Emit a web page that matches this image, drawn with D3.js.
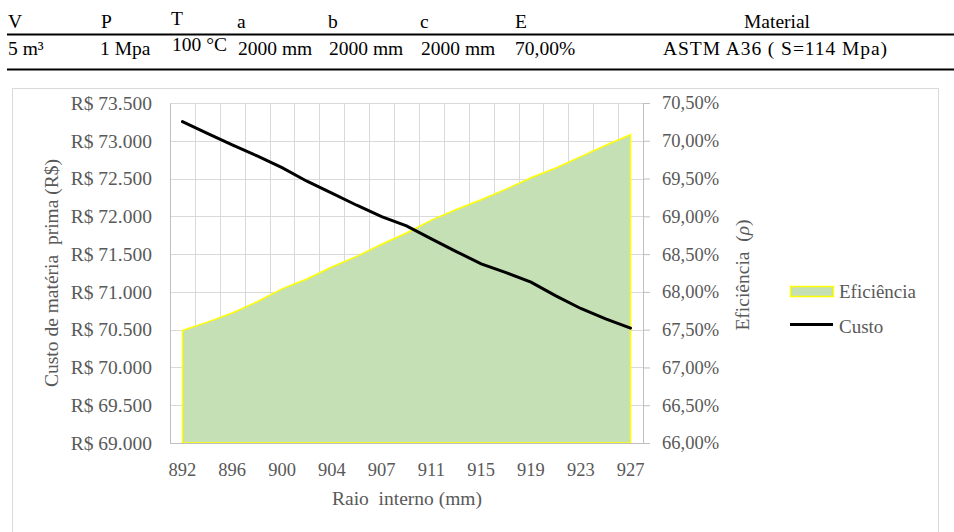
<!DOCTYPE html>
<html>
<head>
<meta charset="utf-8">
<script src="https://cdn.jsdelivr.net/npm/d3@7"></script>
<style>
    body { margin: 0; background: #fff; }
    text { font-family: "Liberation Serif", "Times New Roman", serif; }
</style>
</head>
<body>
<div id="chart"></div>
<script>
// dados
const raio = [892, 894, 896, 898, 900, 902, 904, 906, 907, 909, 911, 913, 915, 917, 919, 921, 923, 925, 927];
const custo = [73253, 73099, 72945, 72799, 72645, 72465, 72306, 72147, 71997, 71874,
    71702, 71534, 71371, 71256, 71129, 70948, 70780, 70644, 70521];
const eficiencia = [67.49, 67.60, 67.72, 67.87, 68.04, 68.17, 68.33, 68.47, 68.63, 68.78,
    68.95, 69.09, 69.22, 69.36, 69.51, 69.64, 69.79, 69.94, 70.08];
const custoTicks = [69000, 69500, 70000, 70500, 71000, 71500, 72000, 72500, 73000, 73500];
const eficienciaTicks = [66, 66.5, 67, 67.5, 68, 68.5, 69, 69.5, 70, 70.5];
const raioTicks = [892, 896, 900, 904, 907, 911, 915, 919, 923, 927];

// tabela de parâmetros
const cabecalho = ['V', 'P', 'T', 'a', 'b', 'c', 'E', 'Material'];
const valores = ['5 m³', '1 Mpa', '100 °C', '2000 mm', '2000 mm', '2000 mm', '70,00%', 'ASTM A36 ( S=114 Mpa)'];

const W = 954, H = 532;
const margin = { top: 103, right: 311, bottom: 89, left: 170 };
const w = W - margin.left - margin.right;
const h = H - margin.top - margin.bottom;

const svg = d3.select('#chart')
    .append('svg')
    .attr('width', W)
    .attr('height', H);

// tabela no topo
const colX = [8, 101, 171, 237, 328, 420, 515, 777];
const tabela = svg.append('g').attr('font-size', 19.5).attr('fill', '#000');
cabecalho.forEach((t, i) => {
    tabela.append('text')
        .attr('x', colX[i])
        .attr('y', t === 'T' ? 25 : 28)
        .attr('text-anchor', t === 'Material' ? 'middle' : 'start')
        .text(t);
});
const valX = [8, 100, 172, 238, 329, 421, 515, 663];
valores.forEach((t, i) => {
    const txt = tabela.append('text')
        .attr('x', valX[i])
        .attr('y', i === 2 ? 51 : 55)
        .text(t);
    if (i === valores.length - 1) txt.attr('textLength', 224).attr('lengthAdjust', 'spacing');
});
svg.append('line').attr('x1', 7).attr('x2', W).attr('y1', 34.5).attr('y2', 34.5)
    .attr('stroke', '#000').attr('stroke-width', 2);
svg.append('line').attr('x1', 7).attr('x2', W).attr('y1', 69.5).attr('y2', 69.5)
    .attr('stroke', '#000').attr('stroke-width', 2);

// moldura do gráfico
svg.append('rect')
    .attr('x', 12.5).attr('y', 88.5)
    .attr('width', 926).attr('height', 480)
    .attr('fill', '#fff')
    .attr('stroke', '#d9d9d9');

const g = svg.append('g')
    .attr('transform', `translate(${margin.left}, ${margin.top})`);

// escalas
const x = d3.scaleBand()
    .domain(raio)
    .range([0, w])
    .padding(0);
const cx = (d) => x(d) + x.bandwidth() / 2;

const yCusto = d3.scaleLinear()
    .domain([69000, 73500])
    .range([h, 0]);
const yEf = d3.scaleLinear()
    .domain([66, 70.5])
    .range([h, 0]);

const pt = d3.formatLocale({ decimal: ',', thousands: '.', grouping: [3], currency: ['R$ ', ''] });
const fmtCusto = pt.format('$,.0f');
const fmtEf = (d) => pt.format('.2f')(d) + '%';

// grade
const gridColor = '#d9d9d9';
g.append('g')
    .selectAll('line')
    .data(custoTicks)
    .join('line')
    .attr('x1', 0).attr('x2', w)
    .attr('y1', (d) => Math.round(yCusto(d)) + 0.5)
    .attr('y2', (d) => Math.round(yCusto(d)) + 0.5)
    .attr('stroke', gridColor);
g.append('g')
    .selectAll('line')
    .data(raio.map((d) => x(d)).concat([w]))
    .join('line')
    .attr('x1', (d) => Math.round(d) + 0.5).attr('x2', (d) => Math.round(d) + 0.5)
    .attr('y1', 0).attr('y2', h)
    .attr('stroke', gridColor);

// área da eficiência
const area = d3.area()
    .x((d, i) => cx(raio[i]))
    .y0(h)
    .y1((d) => yEf(d));
g.append('path')
    .datum(eficiencia)
    .attr('d', area)
    .attr('fill', '#c5e0b4')
    .attr('stroke', '#ffff00')
    .attr('stroke-width', 1.5);

// linha do custo
const line = d3.line()
    .x((d, i) => cx(raio[i]))
    .y((d) => yCusto(d));
g.append('path')
    .datum(custo)
    .attr('d', line)
    .attr('fill', 'none')
    .attr('stroke', '#000')
    .attr('stroke-width', 3)
    .attr('stroke-linecap', 'round');

// eixos
const axisColor = '#bfbfbf';
const labelColor = '#595959';

const axL = g.append('g')
    .call(d3.axisLeft(yCusto).tickValues(custoTicks).tickFormat(fmtCusto).tickSize(0).tickPadding(18));
axL.select('.domain').attr('stroke', axisColor);
axL.selectAll('text').attr('font-size', 19.5).attr('fill', labelColor);

const axR = g.append('g')
    .attr('transform', `translate(${w}, 0)`)
    .call(d3.axisRight(yEf).tickValues(eficienciaTicks).tickFormat(fmtEf).tickSize(7).tickSizeOuter(7).tickPadding(12));
axR.select('.domain').attr('stroke', axisColor);
axR.selectAll('line').attr('stroke', axisColor);
axR.selectAll('text').attr('font-size', 18.5).attr('fill', labelColor);

const axB = g.append('g')
    .attr('transform', `translate(0, ${h})`)
    .call(d3.axisBottom(x).tickValues(raioTicks).tickSize(0).tickSizeOuter(0).tickPadding(20));
axB.select('.domain').attr('stroke', axisColor);
axB.selectAll('text').attr('font-size', 18.5).attr('fill', labelColor);
g.append('line')
    .attr('x1', w).attr('x2', w + 7)
    .attr('y1', h + 0.5).attr('y2', h + 0.5)
    .attr('stroke', axisColor);

// títulos dos eixos
svg.append('text')
    .attr('transform', 'translate(58, 273) rotate(-90)')
    .attr('text-anchor', 'middle')
    .attr('font-size', 19.5)
    .attr('fill', labelColor)
    .attr('xml:space', 'preserve')
    .text('Custo de matéria  prima (R$)');

const tR = svg.append('text')
    .attr('transform', 'translate(749, 275) rotate(-90)')
    .attr('text-anchor', 'middle')
    .attr('font-size', 19.5)
    .attr('fill', labelColor)
    .attr('xml:space', 'preserve');
tR.append('tspan').text('Eficiência  (');
tR.append('tspan').attr('font-style', 'italic').text('ρ');
tR.append('tspan').text(')');

svg.append('text')
    .attr('x', 407)
    .attr('y', 505)
    .attr('text-anchor', 'middle')
    .attr('font-size', 19.5)
    .attr('fill', labelColor)
    .attr('xml:space', 'preserve')
    .text('Raio  interno (mm)');

// legenda
const leg = svg.append('g').attr('transform', 'translate(790, 0)');
leg.append('rect')
    .attr('x', 0.5).attr('y', 286.5)
    .attr('width', 43).attr('height', 10)
    .attr('fill', '#c5e0b4')
    .attr('stroke', '#ffff00')
    .attr('stroke-width', 1.5);
leg.append('text')
    .attr('x', 49).attr('y', 291.5).attr('dy', '0.35em')
    .attr('font-size', 19).attr('fill', labelColor)
    .text('Eficiência');
leg.append('line')
    .attr('x1', 0).attr('x2', 43)
    .attr('y1', 324.5).attr('y2', 324.5)
    .attr('stroke', '#000').attr('stroke-width', 3);
leg.append('text')
    .attr('x', 49).attr('y', 326.5).attr('dy', '0.35em')
    .attr('font-size', 19).attr('fill', labelColor)
    .text('Custo');
</script>
</body>
</html>
